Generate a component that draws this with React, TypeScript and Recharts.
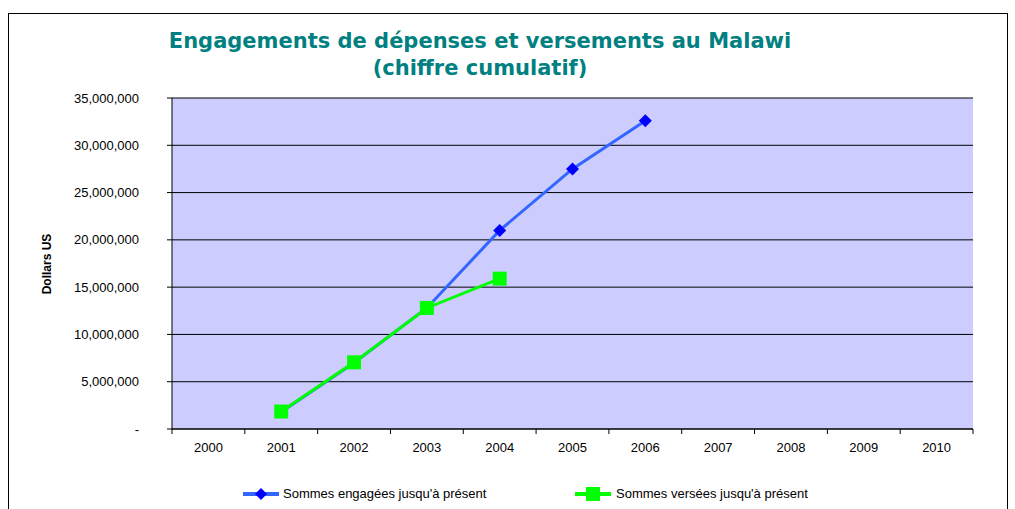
import React from "react";
import {
  LineChart,
  Line,
  XAxis,
  YAxis,
  CartesianGrid,
} from "recharts";

const years = ["2000", "2001", "2002", "2003", "2004", "2005", "2006", "2007", "2008", "2009", "2010"];
const committed = [null, 1800000, 7000000, 12800000, 21000000, 27500000, 32600000, null, null, null, null];
const disbursed = [null, 1850000, 7050000, 12800000, 15900000, null, null, null, null, null, null];
const yTicks = [0, 5000000, 10000000, 15000000, 20000000, 25000000, 30000000, 35000000];

const data = years.map((year, i) => ({
  year,
  committed: committed[i],
  disbursed: disbursed[i],
}));

const W = 1015;
const H = 509;
const X_AXIS_H = 30;
const MARGIN = { top: 98, right: 42, bottom: 80 - X_AXIS_H, left: 0 };
const Y_AXIS_W = 172;
const PLOT_W = W - MARGIN.left - MARGIN.right - Y_AXIS_W;
const BAND = PLOT_W / years.length;
const FONT = "'Liberation Sans', Arial, sans-serif";

const fmtY = (v: number) => (v === 0 ? "-" : v.toLocaleString("en-US"));

function XTick(props: any) {
  const { x, y, payload, index } = props;
  const top = y - 14;
  return (
    <g>
      <line x1={x - BAND / 2} x2={x - BAND / 2} y1={top} y2={top + 5} stroke="#000" />
      {index === years.length - 1 && (
        <line x1={x + BAND / 2} x2={x + BAND / 2} y1={top} y2={top + 5} stroke="#000" />
      )}
      <text x={x} y={y} dy="0.71em" textAnchor="middle" fontSize={13} fontFamily={FONT} fill="#000">
        {payload.value}
      </text>
    </g>
  );
}

function Diamond(props: any) {
  const { cx, cy, index } = props;
  if (cx == null || cy == null) return <g key={`d${index}`} />;
  const r = 6.5;
  return (
    <path
      key={`d${index}`}
      d={`M${cx},${cy - r}L${cx + r},${cy}L${cx},${cy + r}L${cx - r},${cy}Z`}
      fill="#0000FF"
    />
  );
}

function Square(props: any) {
  const { cx, cy, index } = props;
  if (cx == null || cy == null) return <g key={`s${index}`} />;
  return <rect key={`s${index}`} x={cx - 7} y={cy - 7} width={14} height={14} fill="#00FF00" />;
}

function LegendIcon({ line, marker }: { line: string; marker: React.ReactNode }) {
  return (
    <svg width={36} height={14} style={{ verticalAlign: "middle" }}>
      <line x1={0} x2={36} y1={7} y2={7} stroke={line} strokeWidth={4} />
      {marker}
    </svg>
  );
}

export default function App() {
  return (
    <div style={{ position: "absolute", left: 0, top: 0, width: W, height: H, overflow: "hidden", background: "#fff" }}>
      <div
        style={{
          position: "absolute",
          left: 8,
          top: 13,
          width: 998,
          height: 520,
          border: "1px solid #000",
        }}
      />
      <div
        style={{
          position: "absolute",
          left: 80,
          top: 28,
          width: 800,
          textAlign: "center",
          fontFamily: "'DejaVu Sans', Verdana, sans-serif",
          fontWeight: "bold",
          fontSize: 21,
          lineHeight: "27px",
          color: "#008080",
        }}
      >
        Engagements de dépenses et versements au Malawi
        <br />
        (chiffre cumulatif)
      </div>
      <div
        style={{
          position: "absolute",
          left: 47,
          top: 264,
          transform: "translate(-50%, -50%) rotate(-90deg)",
          fontFamily: FONT,
          fontWeight: "bold",
          fontSize: 12,
          whiteSpace: "nowrap",
        }}
      >
        Dollars US
      </div>
      <LineChart width={W} height={H} data={data} margin={MARGIN} style={{ position: "absolute", left: 0, top: 0 }}>
        <CartesianGrid vertical={false} fill="#CCCCFF" stroke="#000" fillOpacity={1} />
        <XAxis
          dataKey="year"
          height={X_AXIS_H}
          padding={{ left: BAND / 2, right: BAND / 2 }}
          tickLine={false}
          tickSize={0}
          tickMargin={14}
          stroke="#000"
          interval={0}
          tick={<XTick />}
        />
        <XAxis xAxisId="top" orientation="top" height={0} dataKey="year" tick={false} tickLine={false} stroke="#808080" />
        <YAxis
          width={Y_AXIS_W}
          domain={[0, 35000000]}
          ticks={yTicks}
          tickFormatter={fmtY}
          tickSize={5}
          tickMargin={28}
          stroke="#000"
          tick={{ fontSize: 13, fontFamily: FONT, fill: "#000" }}
          interval={0}
        />
        <YAxis yAxisId="right" orientation="right" width={0} tick={false} tickLine={false} stroke="#808080" />
        <Line
          dataKey="committed"
          stroke="#3366FF"
          strokeWidth={3}
          dot={(p: any) => <Diamond {...p} />}
          activeDot={false}
          isAnimationActive={false}
        />
        <Line
          dataKey="disbursed"
          stroke="#00FF00"
          strokeWidth={3}
          dot={(p: any) => <Square {...p} />}
          activeDot={false}
          isAnimationActive={false}
        />
      </LineChart>
      <div
        style={{
          position: "absolute",
          left: 243,
          top: 486,
          fontFamily: FONT,
          fontSize: 13,
          display: "flex",
          alignItems: "center",
          whiteSpace: "nowrap",
        }}
      >
        <LegendIcon line="#3366FF" marker={<path d="M18,1L24,7L18,13L12,7Z" fill="#0000FF" />} />
        <span style={{ marginLeft: 4 }}>Sommes engagées jusqu'à présent</span>
      </div>
      <div
        style={{
          position: "absolute",
          left: 575,
          top: 486,
          fontFamily: FONT,
          fontSize: 13,
          display: "flex",
          alignItems: "center",
          whiteSpace: "nowrap",
        }}
      >
        <LegendIcon line="#00FF00" marker={<rect x={11} y={0} width={14} height={14} fill="#00FF00" />} />
        <span style={{ marginLeft: 5 }}>Sommes versées jusqu'à présent</span>
      </div>
    </div>
  );
}
